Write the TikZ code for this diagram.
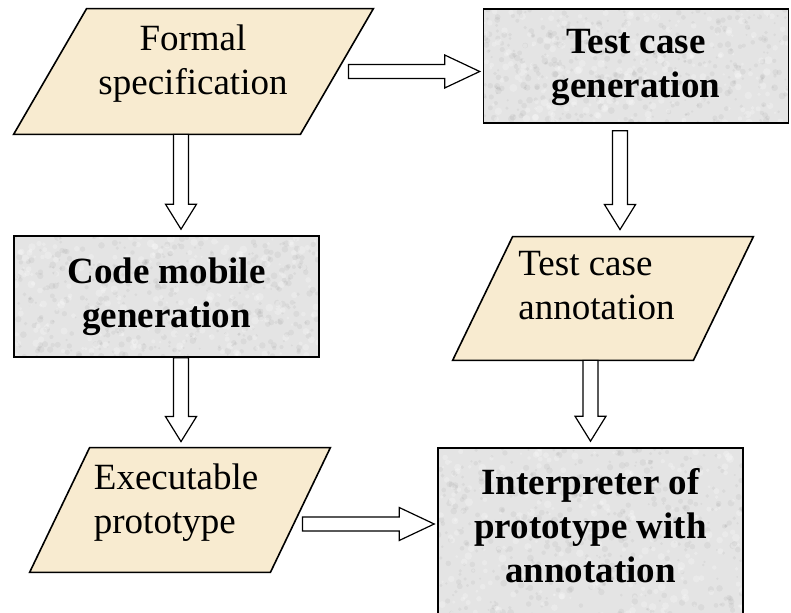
\documentclass[tikz,border=0pt]{standalone}
\usepackage{fontspec}
\setmainfont{Liberation Serif}
\usepackage{xcolor}
\usetikzlibrary{calc}
\definecolor{specbeige}{HTML}{F8EBD0}
\definecolor{procgrey}{HTML}{E4E4E4}
\newcommand{\flowfont}{\fontsize{18.5}{22}\selectfont}

% hollow block arrows, going down or going right
\newcommand{\fatdown}[2]{%
  \draw[fatarrow] let \p1=(#1), \p2=(#2) in
    (\x1-3.75pt,\y1) -- (\x1-3.75pt,\y2+12.5pt) -- (\x1-7.75pt,\y2+12.5pt)
    -- (\x1,\y2) -- (\x1+7.75pt,\y2+12.5pt) -- (\x1+3.75pt,\y2+12.5pt)
    -- (\x1+3.75pt,\y1) -- cycle;}
\newcommand{\fatright}[2]{%
  \draw[fatarrow] let \p1=(#1), \p2=(#2) in
    (\x1,\y1+3.5pt) -- (\x2-17.5pt,\y1+3.5pt) -- (\x2-17.5pt,\y1+8.25pt)
    -- (\x2,\y1) -- (\x2-17.5pt,\y1-8.25pt) -- (\x2-17.5pt,\y1-3.5pt)
    -- (\x1,\y1-3.5pt) -- cycle;}

\tikzset{
  mottle/.style={path picture={
    \foreach \k in {1,...,420}{
      \fill[black, opacity=0.045] let \p1=(path picture bounding box.south west),
          \p2=(path picture bounding box.north east) in
        ({\x1+rnd*(\x2-\x1)}, {\y1+rnd*(\y2-\y1)}) circle ({0.5pt+1.2pt*rnd});
    }
    \foreach \k in {1,...,260}{
      \fill[white, opacity=0.25] let \p1=(path picture bounding box.south west),
          \p2=(path picture bounding box.north east) in
        ({\x1+rnd*(\x2-\x1)}, {\y1+rnd*(\y2-\y1)}) circle ({0.6pt+1.4pt*rnd});
    }
  }},
}

\begin{document}
\begin{tikzpicture}[x=0.5pt, y=-0.5pt,
  procbox/.style={draw, line width=0.8pt, fill=procgrey, mottle, inner sep=0pt,
    minimum width=152.5pt, align=center, font=\flowfont\bfseries},
  dataslot/.style={inner sep=0pt, minimum width=#1},
  datashape/.style={draw, line width=0.8pt, fill=specbeige, line join=miter},
  datatext/.style={inner sep=0pt, font=\flowfont},
  fatarrow/.style={draw, line width=0.6pt, fill=white, line join=miter},
]
\pgfmathsetseed{11}
\useasboundingbox (0,0) rectangle (791,613);

% processing steps
\node[procbox, minimum height=57pt, text depth=2.5pt] (tcg) at (636,66) {Test case\\generation};
\node[procbox, minimum height=60.5pt] (cmg) at (166.5,296.5) {Code mobile\\generation};
\node[procbox, minimum height=84pt, text depth=6.5pt] (ipa) at (590.5,532)
  {Interpreter of\\prototype with\\annotation};

% data: slanted boxes
\node[dataslot=143pt, minimum height=62.5pt] (fs) at (193.5,71.5) {};
\node[dataslot=120pt, minimum height=61.5pt] (tca) at (603,298.5) {};
\node[dataslot=120pt, minimum height=62pt] (ep) at (180,510) {};
\foreach \n/\s in {fs/36.5,tca/30,ep/30}
  \draw[datashape] ($(\n.north west)+(\s,0)$) -- ($(\n.north east)+(\s,0)$)
    -- ($(\n.south east)-(\s,0)$) -- ($(\n.south west)-(\s,0)$) -- cycle;
\node[datatext, align=center, anchor=north] (fs-txt) at (193,24) {Formal\\specification};
\node[datatext, align=left, anchor=north west] (tca-txt) at (518,251) {Test case\\annotation};
\node[datatext, align=left, anchor=north west] (ep-txt) at (93.5,463) {Executable\\prototype};

% flow
\fatright{$(fs.east)+(11.5,0)$}{$(fs.east -| tcg.west)+(-3,0)$}
\fatdown{$(fs.south -| cmg.north)+(14.5,0)$}{$(cmg.north)+(14.5,-6)$}
\fatdown{$(tcg.south)+(-16,7)$}{$(tcg.south |- tca.north)+(-16,-7)$}
\fatdown{$(cmg.south)+(14.5,0)$}{$(cmg.south |- ep.north)+(14.5,-6)$}
\fatdown{$(tca.south -| ipa.north)$}{$(ipa.north)+(0,-6)$}
\fatright{$(ep.east)+(2,14)$}{$(ep.east -| ipa.west)+(-3,14)$}
\end{tikzpicture}
\end{document}
